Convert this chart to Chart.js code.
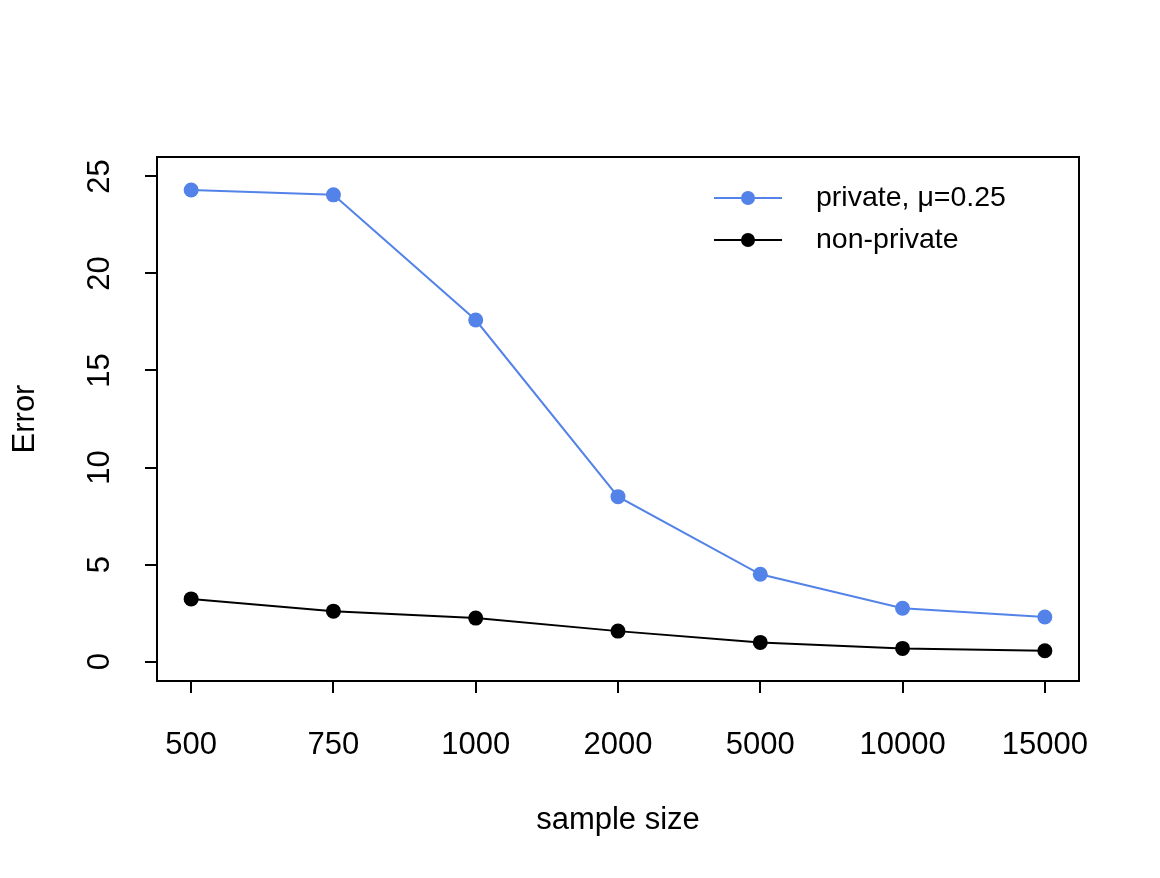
<!DOCTYPE html>
<html>
<head>
<meta charset="utf-8">
<script src="https://cdn.jsdelivr.net/npm/chart.js@4.4.1/dist/chart.umd.min.js"></script>
<style>
  html, body { margin: 0; padding: 0; background: #fff; }
  canvas { display: block; }
</style>
</head>
<body>
<canvas id="myChart" width="1160" height="878"></canvas>
<script>
var sampleSizes = ['500', '750', '1000', '2000', '5000', '10000', '15000'];
var privateErr = [24.3, 24.05, 17.6, 8.5, 4.5, 2.75, 2.3];
var nonPrivateErr = [3.23, 2.6, 2.24, 1.57, 0.99, 0.68, 0.56];
var yTicks = [0, 5, 10, 15, 20, 25];
var seriesNames = ['private, \u03bc=0.25', 'non-private'];

var FONT = '"Liberation Sans", Arial, Helvetica, sans-serif';
var BLUE = '#5383E8';

function points(vals) {
    return vals.map(function (v, i) { return { x: i + 1, y: v }; });
}

// R-style box, rotated y labels, axis titles and legend
var rDecor = {
    id: 'rDecor',
    afterDraw: function (chart) {
        var ctx = chart.ctx, a = chart.chartArea, ys = chart.scales.y;
        ctx.save();
        ctx.strokeStyle = '#000';
        ctx.lineWidth = 2;
        ctx.strokeRect(a.left, a.top, a.right - a.left, a.bottom - a.top);

        ctx.fillStyle = '#000';
        ctx.font = '31px ' + FONT;
        ctx.textAlign = 'center';
        ctx.textBaseline = 'middle';
        yTicks.forEach(function (t) {
            ctx.save();
            ctx.translate(100, ys.getPixelForValue(t));
            ctx.rotate(-Math.PI / 2);
            ctx.fillText(String(t), 0, 0);
            ctx.restore();
        });

        // axis titles
        ctx.save();
        ctx.translate(25, (a.top + a.bottom) / 2);
        ctx.rotate(-Math.PI / 2);
        ctx.fillText('Error', 0, 0);
        ctx.restore();
        ctx.fillText('sample size', (a.left + a.right) / 2, 820);

        // legend
        ctx.textAlign = 'left';
        ctx.font = '28.5px ' + FONT;
        chart.data.datasets.forEach(function (ds, i) {
            var y = 198 + i * 42;
            ctx.strokeStyle = ds.borderColor;
            ctx.lineWidth = 2;
            ctx.beginPath();
            ctx.moveTo(714, y);
            ctx.lineTo(782, y);
            ctx.stroke();
            ctx.fillStyle = ds.backgroundColor;
            ctx.beginPath();
            ctx.arc(748, y, 7, 0, Math.PI * 2);
            ctx.fill();
            ctx.fillStyle = '#000';
            ctx.fillText(ds.label, 816, y);
        });
        ctx.restore();
    }
};

var ctx = document.getElementById('myChart').getContext('2d');
var chart = new Chart(ctx, {
    type: 'line',
    data: {
        datasets: [{
            label: seriesNames[0],
            data: points(privateErr),
            borderColor: BLUE,
            backgroundColor: BLUE,
            borderWidth: 2,
            pointRadius: 7.5,
            pointBorderWidth: 0,
            tension: 0
        }, {
            label: seriesNames[1],
            data: points(nonPrivateErr),
            borderColor: '#000',
            backgroundColor: '#000',
            borderWidth: 2,
            pointRadius: 7.5,
            pointBorderWidth: 0,
            tension: 0
        }]
    },
    options: {
        responsive: false,
        animation: false,
        layout: { padding: { top: 157, right: 81, left: 0, bottom: 0 } },
        plugins: { legend: { display: false }, tooltip: { enabled: false } },
        scales: {
            x: {
                type: 'linear',
                min: 0.76,
                max: 7.24,
                afterBuildTicks: function (s) {
                    s.ticks = sampleSizes.map(function (_, i) { return { value: i + 1 }; });
                },
                afterFit: function (s) { s.height = 197; },
                border: { display: false },
                grid: { drawOnChartArea: false, drawTicks: true, tickLength: 12, color: '#000', lineWidth: 2 },
                ticks: {
                    autoSkip: false,
                    maxRotation: 0,
                    padding: 34,
                    color: '#000',
                    font: { family: FONT, size: 31 },
                    callback: function (v) { return sampleSizes[v - 1]; }
                }
            },
            y: {
                type: 'linear',
                min: -1,
                max: 26,
                afterBuildTicks: function (s) {
                    s.ticks = yTicks.map(function (t) { return { value: t }; });
                },
                afterFit: function (s) { s.width = 157; },
                border: { display: false },
                grid: { drawOnChartArea: false, drawTicks: true, tickLength: 12, color: '#000', lineWidth: 2 },
                ticks: { display: false }
            }
        }
    },
    plugins: [rDecor]
});
</script>
</body>
</html>
